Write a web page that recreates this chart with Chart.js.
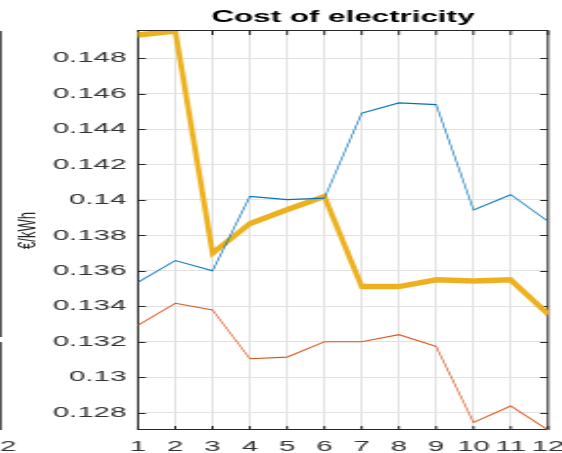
<!DOCTYPE html>
<html>
<head>
<meta charset="utf-8">
<script src="https://cdn.jsdelivr.net/npm/chart.js@4"></script>
<style>
  html, body { margin: 0; padding: 0; background: #fff; overflow: hidden; width: 562px; height: 453px; }
  /* the figure is drawn narrow and widened horizontally, like the exported panel */
  #wrap { width: 287px; height: 453px; transform: scaleX(1.9582); transform-origin: 0 0; }
  canvas { display: block; }
</style>
</head>
<body>
<div id="wrap"><canvas id="c" width="287" height="453"></canvas></div>
<script>
// Monthly cost of electricity, €/kWh
const months = ['1', '2', '3', '4', '5', '6', '7', '8', '9', '10', '11', '12'];
const costBlue   = [0.13536, 0.13658, 0.13600, 0.14020, 0.14002, 0.14010, 0.14489, 0.14547, 0.14538, 0.13943, 0.14030, 0.13879];
const costOrange = [0.13293, 0.13417, 0.13379, 0.13104, 0.13113, 0.13200, 0.13200, 0.13240, 0.13173, 0.12744, 0.12838, 0.12702];
const costYellow = [0.14930, 0.14953, 0.13700, 0.13866, 0.13945, 0.14020, 0.13511, 0.13511, 0.13549, 0.13542, 0.13549, 0.13356];

const yTickValues = [0.128, 0.130, 0.132, 0.134, 0.136, 0.138, 0.140, 0.142, 0.144, 0.146, 0.148];
const yTickLabels = ['0.128', '0.13', '0.132', '0.134', '0.136', '0.138', '0.14', '0.142', '0.144', '0.146', '0.148'];
const neighbourTickLabel = '12';

const allValues = costBlue.concat(costOrange, costYellow);
const yMin = Math.min(...allValues);
const yMax = Math.max(...allValues);

const FONT = "'Liberation Sans', Arial, Helvetica, sans-serif";
const AXIS = '#262626';
const WIDEN = 1.9582;   // horizontal widening applied by the wrapper

// Box outline with inward tick marks on all four sides
const framePlugin = {
  id: 'frame',
  beforeDatasetsDraw(chart) {
    const { ctx, chartArea: a, scales: { x, y } } = chart;
    const tl = 4;
    ctx.save();
    ctx.strokeStyle = AXIS;
    ctx.lineWidth = 1;
    ctx.strokeRect(a.left, a.top - 0.5, a.right - a.left, a.bottom - a.top);
    ctx.beginPath();
    x.ticks.forEach((t, i) => {
      const px = x.getPixelForTick(i);
      ctx.moveTo(px, a.bottom); ctx.lineTo(px, a.bottom - tl);
      ctx.moveTo(px, a.top);    ctx.lineTo(px, a.top + tl);
    });
    y.ticks.forEach(t => {
      const py = Math.round(y.getPixelForValue(t.value)) + 0.5;
      ctx.moveTo(a.left, py);  ctx.lineTo(a.left + tl, py);
      ctx.moveTo(a.right, py); ctx.lineTo(a.right - tl, py);
    });
    ctx.stroke();
    ctx.restore();
  },
  afterDraw(chart) {
    // edge of the adjacent panel on the left
    const { ctx, chartArea: a } = chart;
    ctx.save();
    ctx.strokeStyle = '#555';
    ctx.lineWidth = 1;
    ctx.beginPath();
    ctx.moveTo(0.5, a.top); ctx.lineTo(0.5, 337);
    ctx.moveTo(0.5, 342);   ctx.lineTo(0.5, a.bottom);
    ctx.stroke();
    ctx.fillStyle = '#333';
    ctx.font = '15px ' + FONT;
    ctx.textAlign = 'center';
    ctx.textBaseline = 'middle';
    ctx.fillText(neighbourTickLabel, 0, a.bottom + 16.5);
    ctx.restore();
  }
};

// Series strokes use a pen narrowed horizontally so they keep an even
// thickness once the canvas is widened.
const evenStrokePlugin = {
  id: 'evenStroke',
  beforeDatasetsDraw(chart) {
    const ctx = chart.ctx;
    const base = CanvasRenderingContext2D.prototype.stroke;
    ctx.stroke = function (path) {
      this.save();
      const m = this.getTransform();
      this.setTransform(m.a / WIDEN, m.b, m.c, m.d, m.e, m.f);
      if (path) {
        const p = new Path2D();
        p.addPath(path, new DOMMatrix([WIDEN, 0, 0, 1, 0, 0]));
        base.call(this, p);
      } else {
        base.call(this);
      }
      this.restore();
    };
  },
  afterDatasetsDraw(chart) {
    delete chart.ctx.stroke;
  }
};

new Chart(document.getElementById('c'), {
  type: 'line',
  data: {
    labels: months,
    datasets: [
      { data: costBlue,   borderColor: '#0072BD', borderWidth: 1.2, pointRadius: 0, tension: 0 },
      { data: costOrange, borderColor: '#D95319', borderWidth: 1.2, pointRadius: 0, tension: 0 },
      { data: costYellow, borderColor: '#EDB120', borderWidth: 5.5, pointRadius: 0, tension: 0,
        borderJoinStyle: 'miter' }
    ]
  },
  options: {
    responsive: false,
    animation: false,
    devicePixelRatio: 1,
    layout: { padding: { left: 0, right: 7.15, top: 0, bottom: 0 } },
    plugins: {
      legend: { display: false },
      tooltip: { enabled: false },
      title: {
        display: true,
        text: 'Cost of electricity',
        fullSize: false,
        color: '#000',
        font: { family: FONT, size: 16, weight: 'bold', lineHeight: 1.2 },
        padding: { top: 8.4, bottom: 3.4 }
      }
    },
    scales: {
      x: {
        type: 'category',
        offset: false,
        grid: { color: '#e2e2e2', lineWidth: 1, drawTicks: false, offset: false },
        border: { display: false },
        ticks: { color: '#333', font: { family: FONT, size: 15 }, padding: 7.5, maxRotation: 0, autoSkip: false },
        afterFit(s) { s.height = 23; s.paddingLeft = 0; s.paddingRight = 0; }
      },
      y: {
        min: yMin,
        max: yMax,
        grid: { color: '#e2e2e2', lineWidth: 1, drawTicks: false },
        border: { display: false },
        afterBuildTicks(s) { s.ticks = yTickValues.map(v => ({ value: v })); },
        ticks: {
          color: '#333',
          font: { family: FONT, size: 15 },
          padding: 6,
          callback: (v, i) => yTickLabels[i]
        },
        title: {
          display: true,
          text: '€/kWh',
          color: AXIS,
          font: { family: FONT, size: 13, lineHeight: 1.2 },
          padding: { top: 6.2, bottom: 0 }
        },
        afterFit(s) { s.width = 70.47; s.paddingTop = 0; s.paddingBottom = 0; }
      }
    }
  },
  plugins: [framePlugin, evenStrokePlugin]
});
</script>
</body>
</html>
